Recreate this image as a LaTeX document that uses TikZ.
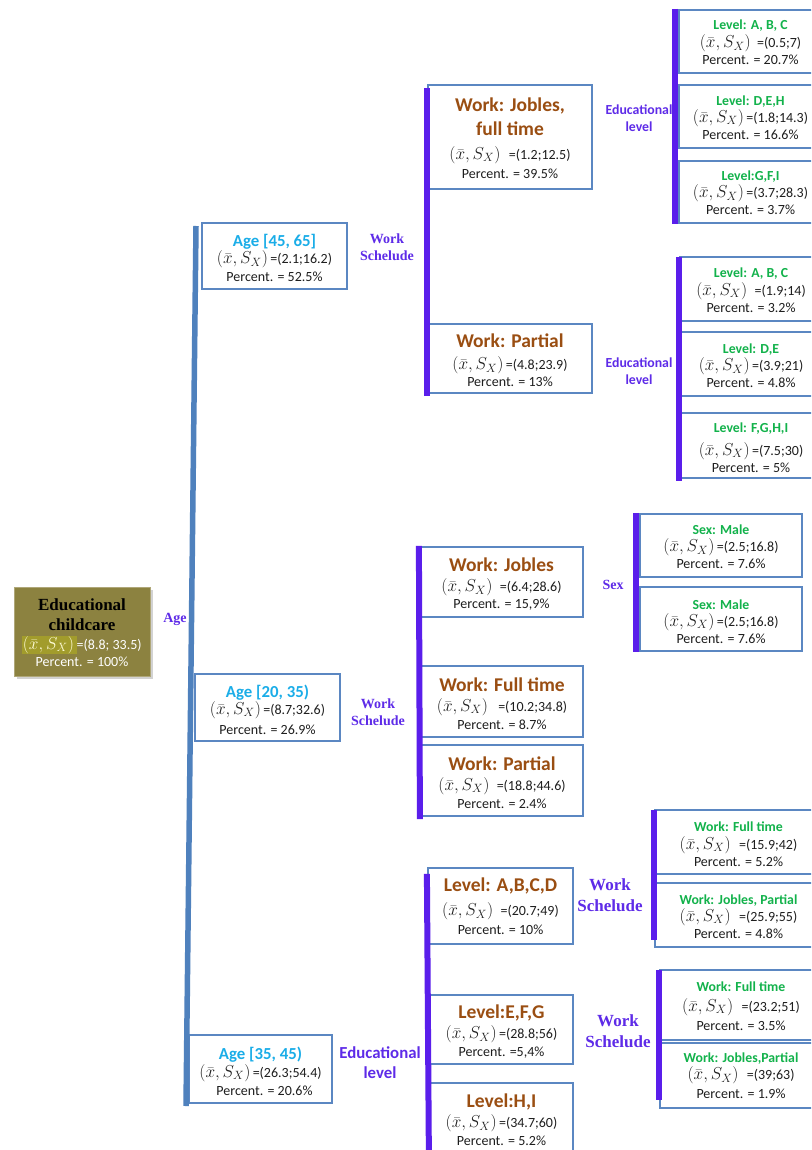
\documentclass[tikz,border=0pt]{standalone}
\usepackage{fontspec}
\setmainfont{Carlito}
\newfontfamily\serifb{Liberation Serif}
\usetikzlibrary{fit,shadows}
\definecolor{boxblue}{HTML}{5B87C2}
\definecolor{barblue}{HTML}{4F81BD}
\definecolor{purplebar}{HTML}{5A1EEB}
\definecolor{lblpurple}{HTML}{5E2BE8}
\definecolor{titbrown}{HTML}{9A4E12}
\definecolor{titcyan}{HTML}{1AADE8}
\definecolor{titgreen}{HTML}{12B24B}
\definecolor{rootolive}{HTML}{8C8240}
\definecolor{roothl}{HTML}{A29C2C}
\definecolor{txt}{HTML}{1E1E1E}
\newcommand\fx[1]{{\fontsize{16.5}{17}\selectfont$(\bar{x},S_{X})$}\,#1}
\newcommand\TitB[1]{{\color{titbrown}\fontsize{19.5}{17}\selectfont\bfseries #1}}
\newcommand\TitC[1]{{\color{titcyan}\fontsize{16.8}{17}\selectfont\bfseries #1}}
\newcommand\TitG[1]{{\color{titgreen}\fontsize{13.8}{17}\selectfont\bfseries #1}}
\newcommand\RootT[1]{{\color{black}\serifb\bfseries\fontsize{17}{17}\selectfont #1}}
% box #1 = name, #2 = fit corners, #3 = text shift, #4 = text
\newcommand\bx[4]{\node[box, fit={#2}] (#1) {};
  \node[btxt] (#1t) at ([yshift=-#3]#1.center) {#4};}
\tikzset{
  box/.style={draw=boxblue, line width=2.2pt, fill=white, inner sep=0pt},
  btxt/.style={inner sep=0pt, align=center, font=\fontsize{14}{17}\selectfont, text=txt},
  rootbox/.style={draw=rootolive!70!white, line width=0.8pt, fill=rootolive, inner sep=0pt,
    drop shadow={shadow xshift=2.5pt, shadow yshift=-2.5pt, fill=black!35}},
  roottxt/.style={inner sep=0pt, align=center, font=\fontsize{14}{17}\selectfont, text=white},
  mainbar/.style={draw=barblue, line width=5.5pt},
  pbarline/.style={draw=purplebar, line width=6pt},
  lbls/.style={text=lblpurple, font=\serifb\bfseries\fontsize{14}{17}\selectfont, align=center, inner sep=0pt},
  lblsbig/.style={text=lblpurple, font=\serifb\bfseries\fontsize{17}{21}\selectfont, align=center, inner sep=0pt},
  lblc/.style={text=lblpurple, font=\bfseries\fontsize{13.8}{17}\selectfont, align=center, inner sep=0pt},
  lblcbig/.style={text=lblpurple, font=\bfseries\fontsize{16.8}{20}\selectfont, align=center, inner sep=0pt},
}
\begin{document}
\begin{tikzpicture}[x=1pt,y=-1pt]
\useasboundingbox (0,0) rectangle (811,1150);
\clip (0,0) rectangle (811,1150);
\fill[white] (0,0) rectangle (811,1150);

% root
\node[rootbox, fit={(14,587)(150,676)}] (root) {};
\node[roottxt] (roott) at ([yshift=-1pt]root.center) {\RootT{Educational}\\[3pt]\RootT{childcare}\\[2pt]
  {\fboxsep=0.5pt\colorbox{roothl}{\color{white!85!yellow}\fx{}}}=(8.8; 33.5)\\Percent. = 100\%};
\node[lbls] (lAge) at (175,619) {Age};

% level 1
\bx{A1}{(202,223)(347,289)}{2pt}{\TitC{Age [45, 65]}\\\fx{=(2.1;16.2)}\\[1pt]Percent. = 52.5\%}
\bx{A2}{(195,674)(340,741)}{2pt}{\TitC{Age [20, 35)}\\\fx{=(8.7;32.6)}\\[3pt]Percent. = 26.9\%}
\bx{A3}{(189,1035)(332,1103)}{2pt}{\TitC{Age [35, 45)}\\[1pt]\fx{=(26.3;54.4)}\\[1pt]\hspace{8pt}Percent. = 20.6\%}
\coordinate (mt) at (196,226);
\coordinate (mb) at (186,1106);
\draw[mainbar] (mt) -- (mb);

\node[lbls] (lWS1) at (387,247) {Work\\Schelude};
\node[lbls] (lWS2) at (378,712) {Work\\Schelude};
\node[lblcbig] (lEL3) at (380,1063) {Educational\\level};

% group B
\bx{B1}{(428,85)(592,189)}{1pt}{\TitB{Work: Jobles,}\\[7pt]\TitB{full time}\\[7pt]\fx{\hspace{6pt}=(1.2;12.5)}\\[2pt]Percent. = 39.5\%}
\bx{B2}{(428,324)(592,393)}{2pt}{\TitB{Work: Partial}\\[5pt]\fx{=(4.8;23.9)}\\Percent. = 13\%}
\draw[pbarline] ([yshift=-4pt]B1.north west) -- ([yshift=-2pt]B2.south west);
\node[lblc] (lEL1) at (639,118) {Educational\\level};
\node[lblc] (lEL2) at (639,371) {Educational\\level};

% group C
\bx{C1}{(679,10)(822,73)}{1pt}{\TitG{Level: A, B, C}\\[1pt]\fx{\hspace{4pt}=(0.5;7)}\\Percent. = 20.7\%}
\bx{C2}{(679,85)(822,148)}{1pt}{\TitG{Level: D,E,H}\\\fx{=(1.8;14.3)}\\Percent. = 16.6\%}
\bx{C3}{(679,161)(822,223)}{1pt}{\TitG{Level:G,F,I}\\\fx{=(3.7;28.3)}\\Percent. = 3.7\%}
\draw[pbarline] ([xshift=-3pt]C1.north west) -- ([xshift=-3pt]C3.south west);

\bx{C4}{(680,257)(822,321)}{1pt}{\TitG{Level: A, B, C}\\[1pt]\fx{\hspace{5pt}=(1.9;14)}\\Percent. = 3.2\%}
\bx{C5}{(680,332)(822,396)}{2pt}{\TitG{Level: D,E}\\\fx{=(3.9;21)}\\Percent. = 4.8\%}
\bx{C6}{(680,413)(822,478)}{2pt}{\TitG{Level: F,G,H,I}\\[6pt]\fx{=(7.5;30)}\\Percent. = 5\%}
\draw[pbarline] ([yshift=-1pt]C4.north west) -- ([yshift=-2pt]C6.south west);

% group D
\bx{D1}{(420,547)(583,617)}{2pt}{\TitB{Work: Jobles}\\[3pt]\fx{\hspace{5pt}=(6.4;28.6)}\\Percent. = 15,9\%}
\bx{D2}{(421,666)(583,737)}{2pt}{\TitB{Work: Full time}\\[3pt]\fx{\hspace{8pt}=(10.2;34.8)}\\[1pt]Percent. = 8.7\%}
\bx{D3}{(421,745)(583,816)}{2pt}{\TitB{Work: Partial}\\[3pt]\fx{\hspace{5pt}=(18.8;44.6)}\\[1pt]Percent. = 2.4\%}
\draw[pbarline] (D1.north west) -- ([yshift=-2pt]D3.south west);
\node[lbls] (lSex) at (613,585) {Sex};

% group E
\bx{E1}{(640,514)(802,577)}{1.5pt}{\TitG{Sex: Male}\\\fx{=(2.5;16.8)}\\Percent. = 7.6\%}
\bx{E2}{(640,587)(802,651)}{2.5pt}{\TitG{Sex: Male}\\\fx{=(2.5;16.8)}\\Percent. = 7.6\%}
\draw[pbarline] ([xshift=-3pt]E1.north west) -- ([xshift=-3pt]E2.south west);

% group F
\bx{F1}{(428,868)(573,944)}{0.5pt}{\TitB{Level: A,B,C,D}\\[7pt]\fx{\hspace{5pt}=(20.7;49)}\\[2pt]Percent. = 10\%}
\bx{F2}{(430,995)(573,1064)}{2pt}{\TitB{Level:E,F,G}\\[3pt]\fx{=(28.8;56)}\\[1pt]Percent. =5,4\%}
\bx{F3}{(430,1083)(573,1157)}{0pt}{\TitB{Level:H,I}\\[3pt]\fx{=(34.7;60)}\\[1pt]Percent. = 5.2\%}
\draw[pbarline] ([yshift=-7pt]F1.north west) -- (F3.south west);

\node[lblsbig] (lWS3) at (610,895) {Work\\Schelude};
\node[lblsbig] (lWS4) at (618,1031) {Work\\Schelude};

% group G
\bx{G1}{(655,810)(822,874)}{2pt}{\TitG{Work: Full time}\\[1pt]\fx{\hspace{6pt}=(15.9;42)}\\Percent. = 5.2\%}
\bx{G2}{(655,883)(822,947)}{1.5pt}{\TitG{Work: Jobles, Partial}\\\fx{\hspace{6pt}=(25.9;55)}\\Percent. = 4.8\%}
\draw[pbarline] ([yshift=-1pt]G1.north west) -- ([yshift=8pt]G2.south west);

% group H
\bx{H1}{(660,970)(822,1040)}{1pt}{\TitG{Work: Full time}\\[3pt]\fx{\hspace{6pt}=(23.2;51)}\\[2pt]Percent. = 3.5\%}
\bx{H2}{(660,1043)(822,1108)}{0.5pt}{\TitG{Work: Jobles,Partial}\\\fx{\hspace{6pt}=(39;63)}\\[2pt]Percent. = 1.9\%}
\draw[pbarline] ([yshift=-1pt]H1.north west) -- ([yshift=9pt]H2.south west);
\end{tikzpicture}
\end{document}
